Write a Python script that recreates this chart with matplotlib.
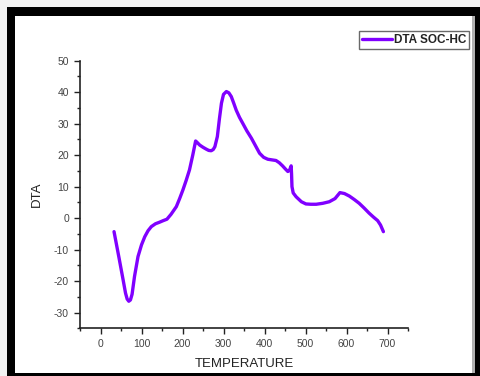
import matplotlib.pyplot as plt
from matplotlib.patches import Rectangle
from matplotlib.ticker import MultipleLocator

plt.rcParams['font.family'] = ['Liberation Sans', 'DejaVu Sans']
plt.rcParams['axes.unicode_minus'] = False

# DTA curve of SOC-HC
temperature = [33, 45, 55, 61, 65, 69, 73, 77, 83, 91.5, 100, 108, 116, 124, 134, 144, 153, 162, 172,
               185, 193, 201, 209, 217, 225, 232, 236, 242, 250, 258, 264, 270, 275, 279,
               285, 290, 295, 300, 307, 313, 319, 325, 331, 339, 347, 357, 368, 378, 388,
               398, 408, 418, 428, 436, 444, 451, 457, 461, 465, 466, 467, 470, 477, 481,
               490, 501, 513, 526, 542, 558, 572, 584, 595, 607, 619, 631, 643, 655, 666,
               676, 683, 690]
dta = [-4.3, -12.5, -19.5, -23.8, -25.7, -26.4, -26.0, -24.2, -18.5, -12.2, -8.5, -5.9, -4.0, -2.7, -1.8,
       -1.3, -0.8, -0.35, 1.2, 3.65, 6.2, 8.95, 12.0, 15.3, 20.0, 24.5, 24.0, 23.2, 22.5,
       21.9, 21.5, 21.4, 21.8, 22.7, 25.9, 31.5, 36.5, 39.3, 40.2, 39.8, 38.6, 36.5, 34.3,
       32.0, 30.1, 27.7, 25.4, 23.0, 20.6, 19.3, 18.7, 18.5, 18.3, 17.6, 16.6, 15.6, 14.8,
       15.2, 16.6, 14.0, 10.0, 8.0, 6.8, 6.3, 5.2, 4.5, 4.4, 4.4, 4.7, 5.2, 6.2, 8.1, 7.8,
       7.0, 5.9, 4.7, 3.2, 1.6, 0.3, -0.8, -2.2, -4.3]

fig = plt.figure(figsize=(4.8, 3.76), dpi=100)
ax = fig.add_axes([80 / 480, 1 - 328.3 / 376, 328 / 480, 267.6 / 376])

ax.plot(temperature, dta, color='#8000ff', lw=2.4, solid_capstyle='round',
        solid_joinstyle='round', label='DTA SOC-HC')

ax.set_xlim(-50, 750)
ax.set_ylim(-35, 50)
ax.xaxis.set_major_locator(MultipleLocator(100))
ax.xaxis.set_minor_locator(MultipleLocator(50))
ax.yaxis.set_major_locator(MultipleLocator(10))
ax.yaxis.set_minor_locator(MultipleLocator(5))
ax.spines['top'].set_visible(False)
ax.spines['right'].set_visible(False)
for s in ['left', 'bottom']:
    ax.spines[s].set_linewidth(1.2)
    ax.spines[s].set_color('#222222')
ax.tick_params(which='major', direction='out', length=4, width=1, colors='#222222',
               labelsize=7.5, labelcolor='#444444', pad=4)
ax.tick_params(which='minor', direction='out', length=2, width=1, colors='#222222')

ax.set_xlabel('TEMPERATURE', fontsize=9.5, color='#222222', labelpad=6)
ax.set_ylabel('DTA', fontsize=9.5, color='#222222', labelpad=8)

leg = ax.legend(loc='upper right', bbox_to_anchor=(469 / 480, 1 - 31 / 376),
                bbox_transform=fig.transFigure, fontsize=8.5, frameon=True,
                fancybox=False, edgecolor='#444444', borderpad=0.25,
                handlelength=2.6, handletextpad=0.1, borderaxespad=0)
leg.get_frame().set_linewidth(1.0)
for t in leg.get_texts():
    t.set_fontweight('bold')
    t.set_color('#222222')

# black frame around the plot
W, H = 480, 376
def px_rect(x0, y0, x1, y1, color):
    fig.add_artist(Rectangle((x0 / W, 1 - y1 / H), (x1 - x0) / W, (y1 - y0) / H,
                             transform=fig.transFigure, color=color, lw=0, zorder=5))

px_rect(0, 0, W, 7, '#f2f2f2')
px_rect(0, 0, 7, H, '#f2f2f2')
px_rect(7, 7, W, 16, 'black')
px_rect(7, 7, 15, H, 'black')
px_rect(472, 16, 475, 373, '#b0b0b0')
px_rect(475, 7, W, H, 'black')
px_rect(7, 373, W, H, 'black')

fig.savefig('out.png', dpi=100)
